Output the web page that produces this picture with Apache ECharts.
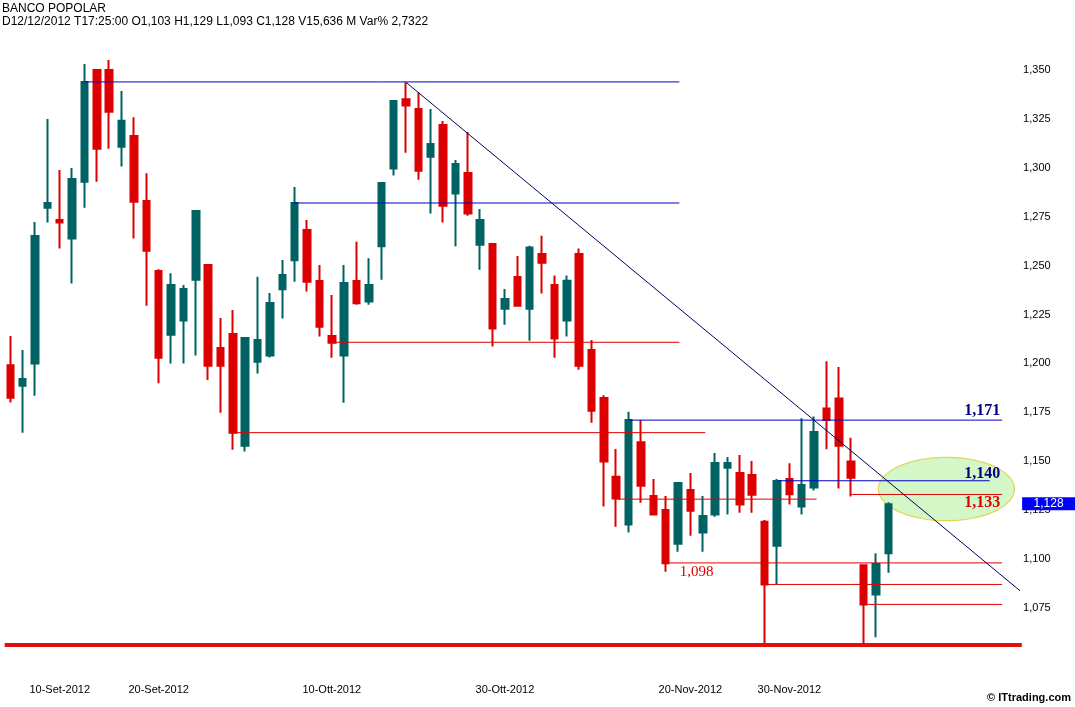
<!DOCTYPE html>
<html>
<head>
<meta charset="utf-8">
<script src="https://cdn.jsdelivr.net/npm/echarts@6/dist/echarts.min.js"></script>
<style>html,body{margin:0;padding:0;background:#fff}#c{width:1075px;height:707px}</style>
</head>
<body>
<div id="c"></div>
<script>
// ---- data ----
const dates = [
  '4-Set-2012','5-Set-2012','6-Set-2012','7-Set-2012','10-Set-2012','11-Set-2012','12-Set-2012','13-Set-2012','14-Set-2012',
  '17-Set-2012','18-Set-2012','19-Set-2012','20-Set-2012','21-Set-2012','24-Set-2012','25-Set-2012','26-Set-2012','27-Set-2012','28-Set-2012',
  '1-Ott-2012','2-Ott-2012','3-Ott-2012','4-Ott-2012','5-Ott-2012','8-Ott-2012','9-Ott-2012','10-Ott-2012','11-Ott-2012','12-Ott-2012',
  '15-Ott-2012','16-Ott-2012','17-Ott-2012','18-Ott-2012','19-Ott-2012','22-Ott-2012','23-Ott-2012','24-Ott-2012','25-Ott-2012','26-Ott-2012',
  '29-Ott-2012','30-Ott-2012','31-Ott-2012',
  '1-Nov-2012','2-Nov-2012','5-Nov-2012','6-Nov-2012','7-Nov-2012','8-Nov-2012','9-Nov-2012','12-Nov-2012','13-Nov-2012','14-Nov-2012',
  '15-Nov-2012','16-Nov-2012','19-Nov-2012','20-Nov-2012','21-Nov-2012','22-Nov-2012','23-Nov-2012','26-Nov-2012','27-Nov-2012','28-Nov-2012',
  '29-Nov-2012','30-Nov-2012',
  '3-Dic-2012','4-Dic-2012','5-Dic-2012','6-Dic-2012','7-Dic-2012','10-Dic-2012','11-Dic-2012','12-Dic-2012',
  // empty future sessions (right margin of the chart)
  '13-Dic-2012','14-Dic-2012','17-Dic-2012','18-Dic-2012','19-Dic-2012','20-Dic-2012','21-Dic-2012','24-Dic-2012','27-Dic-2012','28-Dic-2012'
];
const shownDates = ['10-Set-2012','20-Set-2012','10-Ott-2012','30-Ott-2012','20-Nov-2012','30-Nov-2012'];

const openP = [1.199,1.1886,1.200,1.2796,1.2733,1.2638,1.2929,1.350,1.350,1.3108,1.3163,1.283,1.2472,1.2147,1.2219,1.2428,1.2503,1.2079,1.215,
  1.1579,1.2009,1.2041,1.2379,1.2527,1.2682,1.2421,1.214,1.2041,1.2421,1.2316,1.2599,1.2997,1.335,1.3301,1.3057,1.3219,1.2868,1.2973,1.2607,1.261,1.228,1.2442,
  1.228,1.2559,1.2401,1.2219,1.2559,1.2069,1.1823,1.1421,1.1176,1.1597,1.1322,1.1251,1.1078,1.1353,1.1135,1.1227,1.1467,1.144,1.1429,1.119,1.1068,1.1409,
  1.1269,1.1365,1.177,1.1821,1.1499,1.0968,1.0818,1.103];
const closeP = [1.1825,1.192,1.2651,1.282,1.272,1.2943,1.3439,1.3098,1.3287,1.3241,1.2827,1.2576,1.2029,1.2401,1.238,1.2779,1.1988,1.1988,1.1646,
  1.213,1.212,1.2309,1.2452,1.282,1.2418,1.2188,1.2106,1.2411,1.2307,1.2401,1.2922,1.3342,1.3318,1.2985,1.3122,1.2806,1.302,1.2766,1.2733,1.2178,1.2329,1.2295,
  1.2592,1.2515,1.2127,1.2423,1.1988,1.1758,1.1498,1.1309,1.1711,1.1375,1.1227,1.0978,1.1389,1.1247,1.122,1.1491,1.1491,1.1278,1.1329,1.087,1.1399,1.1331,
  1.1378,1.1649,1.1711,1.1579,1.1416,1.0768,1.0974,1.128];
const lowP = [1.180,1.1646,1.1835,1.272,1.2587,1.2408,1.2796,1.2929,1.3098,1.3007,1.2638,1.2295,1.1898,1.200,1.200,1.2041,1.1915,1.1748,1.1559,
  1.1549,1.1949,1.203,1.223,1.2418,1.2367,1.2137,1.2029,1.1799,1.230,1.230,1.2428,1.296,1.3077,1.2939,1.2766,1.272,1.2599,1.2755,1.2479,1.2086,1.2198,1.229,
  1.2116,1.2358,1.2029,1.2137,1.1968,1.1697,1.1268,1.1165,1.1135,1.1288,1.1227,1.0935,1.1037,1.1119,1.1037,1.1216,1.1227,1.1237,1.1237,1.056,1.087,1.1279,
  1.1228,1.135,1.1561,1.136,1.1319,1.0565,1.060,1.093];
const highP = [1.214,1.2069,1.2723,1.325,1.2989,1.2999,1.3531,1.3505,1.3551,1.3393,1.3258,1.2972,1.2481,1.2461,1.2401,1.2779,1.2503,1.2232,1.2273,
  1.213,1.2443,1.236,1.2529,1.2902,1.2733,1.2503,1.235,1.2503,1.2622,1.2537,1.2922,1.3342,1.3437,1.3386,1.3301,1.3239,1.304,1.3183,1.2789,1.2615,1.238,1.2549,
  1.2602,1.2653,1.245,1.245,1.2588,1.212,1.1837,1.1562,1.1753,1.1711,1.1409,1.1322,1.1389,1.144,1.1322,1.1542,1.1521,1.1532,1.1501,1.1199,1.1409,1.1489,
  1.1719,1.1729,1.2011,1.1982,1.162,1.0968,1.1029,1.129];

// y-axis ticks
const yMin = 1.05, yMax = 1.375, yStep = 0.025;

// horizontal support / resistance levels (value, from session index, to session index, kind)
const levelValues = [1.3439, 1.2820, 1.2108, 1.1646, 1.171, 1.140, 1.1306, 1.133, 1.098, 1.087, 1.0768, 1.056];
const levelFrom   = [6, 22.9, 26, 18, 50, 62.1, 49.1, 68, 53, 61, 69, -0.45];
const levelTo     = [54.1, 54.1, 54.1, 56.2, 80.2, 79.2, 65.2, 80.2, 80.2, 80.2, 80.2, 81.8];
const levelKind   = ['res','res','sup','sup','res','res','sup','sup','sup','sup','sup','floor'];

// downward trendline (session index, value)
const trendX = [32, 81.8];
const trendY = [1.3437, 1.083];

// price notes
const noteTexts = ['1,171', '1,140', '1,133', '1,098'];
const noteX     = [78.6, 78.6, 78.6, 55.5];
const noteY     = [1.1757, 1.1435, 1.1286, 1.0935];
const noteKind  = ['blueBig', 'blueBig', 'redBig', 'redSmall'];

// highlighted zone (ellipse): centre (index, value), half-widths (index, value)
const zoneCenter = [75.7, 1.1358];
const zoneRadius = [5.5, 0.0162];

const headerTitle = 'BANCO POPOLAR';
const headerInfo = 'D12/12/2012 T17:25:00 O1,103 H1,129 L1,093 C1,128 V15,636 M Var% 2,7322';

const lastClose = closeP[closeP.length - 1];

// ---- styles ----
const UP = '#006262', DOWN = '#dd0000';
const levelStyle = {
  res:   { color: '#0000c8', width: 1 },
  sup:   { color: '#e00000', width: 1 },
  floor: { color: '#e01010', width: 4 }
};
const noteStyle = {
  blueBig:  { fill: '#000080', font: 'bold 16px "Liberation Serif"' },
  redBig:   { fill: '#e00000', font: 'bold 16px "Liberation Serif"' },
  redSmall: { fill: '#e00000', font: '15px "Liberation Serif"' }
};
const fmt = v => v.toFixed(3).replace('.', ',');

const candleData = openP.map((o, i) => [o, closeP[i], lowP[i], highP[i]]);
const N = dates.length;

const series = [];

// zone ellipse (under everything)
series.push({
  type: 'custom', xAxisIndex: 1, yAxisIndex: 0, z: 1, silent: true, clip: false,
  data: [[zoneCenter[0], zoneCenter[1]]],
  renderItem: (params, api) => {
    const c = api.coord([api.value(0), api.value(1)]);
    const e = api.coord([api.value(0) + zoneRadius[0], api.value(1) + zoneRadius[1]]);
    const rx = Math.abs(e[0] - c[0]), ry = Math.abs(e[1] - c[1]);
    const pts = [];
    for (let k = 0; k < 96; k++) {
      const a = k / 96 * Math.PI * 2;
      pts.push([c[0] + rx * Math.cos(a), c[1] + ry * Math.sin(a)]);
    }
    return { type: 'polygon', shape: { points: pts }, style: { fill: '#d3f7c6', stroke: '#e2d45a', lineWidth: 1.2 } };
  }
});

// candles
series.push({
  type: 'candlestick', xAxisIndex: 0, yAxisIndex: 0, z: 3,
  data: candleData, barWidth: 7,
  itemStyle: { color: UP, color0: DOWN, borderColor: UP, borderColor0: DOWN, borderWidth: 2 },
  emphasis: { disabled: true }
});

// levels
levelValues.forEach((v, i) => {
  const st = levelStyle[levelKind[i]];
  series.push({
    type: 'line', xAxisIndex: 1, yAxisIndex: 0, z: 4, silent: true, clip: false,
    symbol: 'none', animation: false,
    data: [[levelFrom[i], v], [levelTo[i], v]],
    lineStyle: { color: st.color, width: st.width }
  });
});

// trendline
series.push({
  type: 'line', xAxisIndex: 1, yAxisIndex: 0, z: 4, silent: true, clip: false,
  symbol: 'none', data: trendX.map((x, i) => [x, trendY[i]]),
  lineStyle: { color: '#000060', width: 1 }
});

// notes
series.push({
  type: 'custom', xAxisIndex: 1, yAxisIndex: 0, z: 6, silent: true, clip: false,
  data: noteTexts.map((t, i) => [noteX[i], noteY[i]]),
  renderItem: (params, api) => {
    const p = api.coord([api.value(0), api.value(1)]);
    const st = noteStyle[noteKind[params.dataIndex]];
    return { type: 'text', x: p[0], y: p[1],
      style: { text: noteTexts[params.dataIndex], fill: st.fill, font: st.font, align: 'center', verticalAlign: 'middle' } };
  }
});

// last price tag on the axis
series.push({
  type: 'custom', xAxisIndex: 1, yAxisIndex: 0, z: 10, silent: true, clip: false,
  data: [[N - 1, lastClose]],
  renderItem: (params, api) => {
    const p = api.coord([api.value(0), api.value(1)]);
    const cs = params.coordSys;
    const x0 = cs.x + cs.width + 4;
    return { type: 'group', children: [
      { type: 'rect', shape: { x: x0, y: p[1] - 7, width: 1075 - x0, height: 13 }, style: { fill: '#0000ff' } },
      { type: 'text', x: x0 + (1075 - x0) / 2, y: p[1] - 0.5,
        style: { text: fmt(api.value(1)), fill: '#ffffff', font: '12px "Liberation Sans"', align: 'center', verticalAlign: 'middle' } }
    ]};
  }
});

const chart = echarts.init(document.getElementById('c'), null, { renderer: 'canvas' });
chart.setOption({
  animation: false,
  backgroundColor: '#ffffff',
  title: [
    { text: headerTitle, left: 2, top: 3, padding: 0,
      textStyle: { fontSize: 12, fontWeight: 'normal', color: '#000', fontFamily: 'Liberation Sans' } },
    { text: headerInfo, left: 2, top: 16, padding: 0,
      textStyle: { fontSize: 12, fontWeight: 'normal', color: '#000', fontFamily: 'Liberation Sans' } }
  ],
  graphic: [
    { type: 'text', right: 4, top: 692,
      style: { text: '\u00a9 ITtrading.com', fill: '#000', font: 'bold 11px "Liberation Sans"' } }
  ],
  grid: { left: 4.1, top: 21.1, width: 12.366 * N, height: 635.7, containLabel: false },
  xAxis: [
    { type: 'category', data: dates, boundaryGap: true,
      axisLine: { show: false }, axisTick: { show: false }, splitLine: { show: false },
      axisLabel: { interval: (idx, val) => shownDates.indexOf(val) >= 0, margin: 28,
        fontSize: 11, fontFamily: 'Liberation Sans', color: '#000' } },
    { type: 'value', min: -0.5, max: N - 0.5, show: false, splitLine: { show: false } }
  ],
  yAxis: [
    { type: 'value', position: 'right', min: yMin, max: yMax, interval: yStep, scale: true,
      axisLine: { show: false }, axisTick: { show: false }, splitLine: { show: false },
      axisLabel: { margin: 5, fontSize: 11, fontFamily: 'Liberation Sans', color: '#000',
        showMinLabel: false, showMaxLabel: false,
        formatter: v => (Math.abs(v - yMin) < 1e-6 || Math.abs(v - yMax) < 1e-6) ? '' : fmt(v) } }
  ],
  series: series
});
</script>
</body>
</html>
